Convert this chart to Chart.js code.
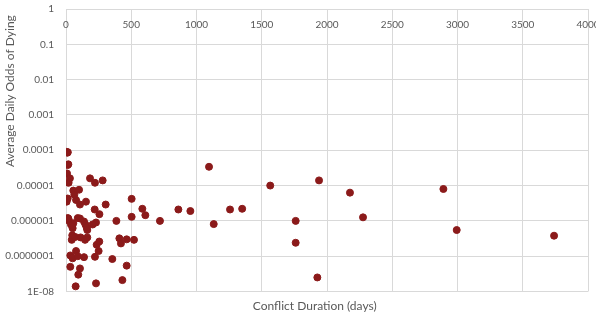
<!DOCTYPE html>
<html>
<head>
<meta charset="utf-8">
<script src="https://cdn.jsdelivr.net/npm/chart.js@4"></script>
<style>
  html, body { margin: 0; padding: 0; background: #fff; }
  #wrap { width: 596px; height: 314px; }
</style>
</head>
<body>
<div id="wrap"><canvas id="myChart"></canvas></div>
<script>
// conflict duration (days) and average daily odds of dying
const durations = [5, 10, 14, 12, 18, 8, 30, 20, 184, 222, 281, 1096, 1565, 1939, 2176, 2276, 2892, 2994, 3740,
  1760, 1760, 1926, 503, 585, 608, 503, 720, 861, 953, 1132, 1257, 1350, 386, 304, 256, 220,
  409, 421, 465, 521, 355, 465, 432, 230, 74, 94, 107, 33, 77, 33, 51, 90, 138, 222, 250, 235, 255,
  44, 48, 71, 112, 146, 163, 163, 230, 204, 138, 148, 107, 90, 13, 23, 38, 56, 51,
  5, 13, 77, 107, 153, 56, 100, 64, 158, 48, 18];
const odds = [9e-5, 8.5e-5, 8.8e-5, 3.8e-5, 4e-5, 2.2e-5, 1.6e-5, 1.2e-5, 1.6e-5, 1.2e-5, 1.4e-5, 3.4e-5, 1e-5, 1.4e-5, 6.3e-6, 1.26e-6, 8e-6, 5.5e-7, 3.8e-7,
  1e-6, 2.4e-7, 2.5e-8, 4.2e-6, 2.2e-6, 1.45e-6, 1.3e-6, 1e-6, 2.1e-6, 1.9e-6, 8.1e-7, 2.1e-6, 2.2e-6, 1e-6, 2.9e-6, 1.55e-6, 2.1e-6,
  3.2e-7, 2.3e-7, 3e-7, 2.9e-7, 8.3e-8, 5.4e-8, 2.1e-8, 1.7e-8, 1.4e-8, 3e-8, 4.5e-8, 5e-8, 1.4e-7, 1.05e-7, 8.7e-8, 1e-7, 9.4e-8, 9.6e-8, 1.4e-7, 2.1e-7, 2.6e-7,
  2.9e-7, 3.9e-7, 3.5e-7, 3.4e-7, 2.9e-7, 3.4e-7, 5.5e-7, 9e-7, 7.9e-7, 9.6e-7, 8e-7, 1.17e-6, 1.2e-6, 1.2e-6, 1e-6, 7.9e-7, 8.6e-7, 6.2e-7,
  3.5e-6, 4.3e-6, 3.9e-6, 2.9e-6, 3.5e-6, 7.2e-6, 7.6e-6, 5.5e-6, 6.5e-7, 7.3e-7, 1.17e-6];

const yTicks = [1, 0.1, 0.01, 0.001, 0.0001, 0.00001, 0.000001, 0.0000001, 0.00000001];
const yTickLabels = ['1', '0.1', '0.01', '0.001', '0.0001', '0.00001', '0.000001', '0.0000001', '1E-08'];

const points = durations.map((d, i) => ({ x: d, y: odds[i] }));

const textColor = '#595959';
const gridColor = '#d9d9d9';
const fontFamily = 'Lato, "Open Sans", sans-serif';

const ctx = document.getElementById('myChart');

new Chart(ctx, {
    type: 'scatter',
    data: {
        datasets: [{
            label: 'Odds',
            data: points,
            backgroundColor: '#8b1a1a',
            borderColor: '#8b1a1a',
            pointRadius: 3.5,
            pointHoverRadius: 3.5
        }]
    },
    options: {
        responsive: true,
        maintainAspectRatio: false,
        animation: false,
        layout: {
            padding: { top: 9, right: 8, left: 0, bottom: 0 }
        },
        scales: {
            x: {
                type: 'linear',
                position: 'top',
                min: 0,
                max: 4000,
                border: { display: false },
                grid: { color: gridColor, drawTicks: false },
                ticks: {
                    stepSize: 500,
                    mirror: true,
                    padding: 10,
                    maxRotation: 0,
                    color: textColor,
                    font: { family: fontFamily, size: 10 },
                    callback: function (value) {
                        return String(value);
                    }
                },
                // labels sit inside the plot, under the top edge
                afterFit: function (scale) {
                    scale.height = 0;
                    scale.paddingLeft = 0;
                    scale.paddingRight = 0;
                }
            },
            xTitle: {
                type: 'linear',
                position: 'bottom',
                min: 0,
                max: 4000,
                border: { display: false },
                grid: { display: false, drawTicks: false },
                ticks: { display: false },
                title: {
                    display: true,
                    text: 'Conflict Duration (days)\u00a0\u00a0\u00a0\u00a0\u00a0\u00a0\u00a0\u00a0',
                    color: textColor,
                    font: { family: fontFamily, size: 12 },
                    padding: { top: 0, bottom: 1 }
                },
                afterFit: function (scale) {
                    scale.height = 22.5;
                    scale.paddingLeft = 0;
                    scale.paddingRight = 0;
                }
            },
            y: {
                type: 'logarithmic',
                min: 1e-8,
                max: 1,
                border: { display: false },
                grid: { color: gridColor, drawTicks: false },
                afterBuildTicks: function (scale) {
                    scale.ticks = yTicks.map(v => ({ value: v }));
                },
                afterFit: function (scale) {
                    scale.width = 66;
                    scale.paddingTop = 0;
                    scale.paddingBottom = 0;
                },
                ticks: {
                    padding: 12,
                    color: textColor,
                    font: { family: fontFamily, size: 10 },
                    callback: function (value) {
                        const idx = yTicks.findIndex(t => Math.abs(Math.log10(t) - Math.log10(value)) < 1e-6);
                        return idx >= 0 ? yTickLabels[idx] : '';
                    }
                },
                title: {
                    display: true,
                    text: 'Average Daily Odds of Dying\u00a0\u00a0',
                    align: 'end',
                    color: textColor,
                    font: { family: fontFamily, size: 12 },
                    padding: { top: 3, bottom: 0 }
                }
            }
        },
        plugins: {
            legend: { display: false },
            tooltip: { enabled: false }
        }
    }
});
</script>
</body>
</html>
